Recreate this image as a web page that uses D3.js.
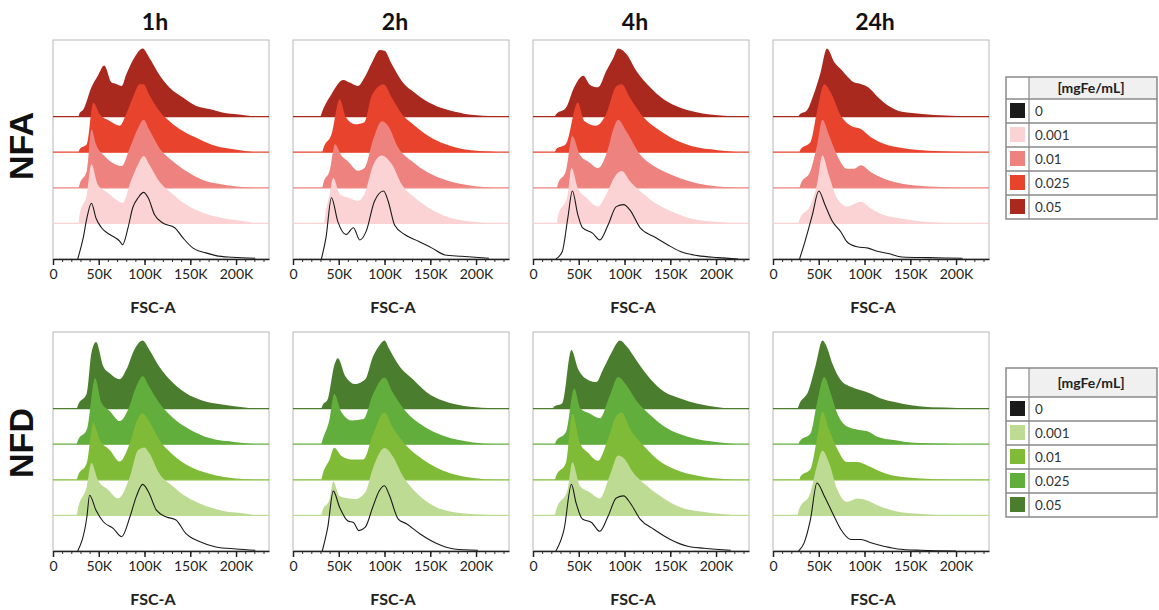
<!DOCTYPE html>
<html>
<head>
<meta charset="utf-8">
<script src="https://cdn.jsdelivr.net/npm/d3@7"></script>
<style>
  body { margin: 0; background: #fff; }
  text { font-family: Lato, "Open Sans", sans-serif; }
</style>
</head>
<body>
<svg id="chart" width="1159" height="610"></svg>
<script>
// ---------------- data : FSC-A (in K) , % of mode ----------------
// each panel = 5 histograms, in order of concentrations below
const timepoints = ["1h", "2h", "4h", "24h"];
const concentrations = ["0", "0.001", "0.01", "0.025", "0.05"];
const xTicks = [0, 50, 100, 150, 200];
const xTickLabels = ["0", "50K", "100K", "150K", "200K"];

const nfa1h = [
  [[27,0],[33,31],[37,60],[42,82],[47,60],[53,46],[62,36],[73,26],[76,21],[82,46],[87,75],[93,90],[99,98],[104,90],[111,65],[120,53],[133,46],[142,31],[153,16],[167,9],[178,5],[196,2.5],[221,1]],
  [[28,0],[29,12],[37,43],[42,87],[49,57],[60,45],[71,33],[76,30],[85,62],[93,87],[99,99],[105,87],[116,62],[131,43],[145,28],[163,16],[185,8],[214,2],[221,0]],
  [[28,0],[29,5],[37,25],[42,86],[47,64],[56,47],[69,34],[75,32],[84,59],[93,88],[99,100],[105,86],[116,59],[131,39],[145,25],[163,12],[185,5],[221,0]],
  [[28,0],[29,4],[37,12],[44,73],[51,56],[62,46],[73,39],[80,56],[87,80],[95,100],[99,100],[105,85],[116,61],[127,46],[142,31],[160,19],[178,9],[199,4],[220,0]],
  [[28,0],[29,5],[33,10],[42,43],[49,60],[56,75],[64,50],[69,48],[75,45],[80,62],[89,87],[98,100],[105,87],[116,62],[127,43],[142,28],[156,16],[171,11],[185,6],[203,3],[220,0]]
];
const nfa2h = [
  [[31,0],[36,31],[42,90],[49,55],[58,36],[66,46],[73,28],[80,41],[89,85],[99,100],[104,85],[111,50],[122,36],[137,26],[152,16],[166,6],[184,4],[214,1]],
  [[34,0],[35,10],[40,43],[44,67],[51,43],[60,38],[71,33],[78,43],[88,87],[97,100],[108,87],[119,57],[133,38],[148,23],[166,11],[192,3],[221,0]],
  [[32,0],[33,6],[40,25],[46,64],[53,47],[60,39],[71,25],[78,29],[88,73],[97,98],[104,91],[115,59],[130,39],[148,22],[170,10],[195,3],[221,0]],
  [[32,0],[33,5],[42,26],[51,78],[58,51],[68,41],[78,44],[86,83],[99,100],[108,80],[119,56],[133,39],[148,24],[166,12],[188,4],[214,1],[224,0]],
  [[30,0],[31,4],[42,33],[55,54],[62,50],[71,45],[78,57],[86,79],[95,98],[100,97],[108,77],[119,52],[133,35],[148,21],[166,11],[188,4],[214,1],[224,0]]
];
const nfa4h = [
  [[25,0],[32,11],[38,60],[43,100],[49,65],[54,46],[65,38],[73,28],[82,50],[91,77],[99,80],[106,72],[117,46],[132,33],[147,21],[161,11],[180,5],[202,2],[224,0]],
  [[26,0],[27,8],[38,43],[42,82],[49,52],[58,38],[71,25],[80,43],[91,72],[97,77],[106,62],[121,43],[136,28],[154,16],[176,6],[202,2],[224,0]],
  [[26,0],[27,5],[36,25],[43,76],[51,49],[62,37],[71,29],[80,49],[89,91],[93,100],[102,83],[117,49],[132,32],[150,20],[173,9],[202,2],[224,0]],
  [[24,0],[25,4],[36,12],[49,73],[56,46],[69,39],[80,56],[91,97],[97,100],[106,80],[121,51],[136,34],[150,22],[173,9],[202,3],[224,0]],
  [[24,0],[25,3],[36,13],[45,43],[55,60],[62,47],[71,43],[80,67],[88,87],[93,100],[102,92],[113,67],[128,43],[143,25],[161,13],[180,6],[202,2],[224,0]]
];
const nfa24h = [
  [[29,0],[35,26],[43,65],[50,100],[57,79],[65,55],[74,40],[81,25],[92,18],[104,16],[115,11],[126,8],[141,3],[170,2],[207,1]],
  [[28,0],[29,6],[41,27],[48,57],[54,100],[61,71],[70,37],[81,25],[96,32],[107,22],[122,12],[141,7],[170,2],[210,0]],
  [[29,0],[30,5],[41,25],[48,62],[54,100],[61,78],[70,48],[81,28],[89,28],[96,33],[107,23],[122,13],[141,6],[170,2],[225,0]],
  [[29,0],[30,4],[41,15],[48,59],[56,100],[63,88],[74,54],[85,39],[96,34],[107,22],[122,12],[141,6],[170,2],[225,0]],
  [[28,0],[29,3],[37,9],[44,31],[52,65],[59,100],[67,80],[74,70],[82,58],[89,50],[96,48],[104,43],[115,28],[126,16],[141,7],[163,4],[189,1.5],[225,0]]
];

const nfd1h = [
  [[27,0],[37,50],[40,82],[47,60],[55,43],[66,33],[75,21],[84,50],[91,80],[98,98],[105,85],[113,60],[124,50],[134,46],[145,26],[160,14],[178,6],[200,3],[221,1]],
  [[26,0],[27,8],[37,43],[42,77],[49,52],[60,38],[71,25],[84,57],[93,96],[100,100],[105,92],[116,62],[131,43],[145,28],[163,16],[185,7],[214,2],[221,0]],
  [[26,0],[27,5],[37,25],[44,83],[51,59],[62,44],[73,27],[84,54],[93,91],[98,98],[105,86],[116,59],[131,37],[149,20],[171,9],[200,2],[221,0]],
  [[26,0],[27,5],[37,22],[46,97],[53,61],[62,49],[73,34],[82,51],[91,85],[98,100],[105,85],[116,61],[131,39],[149,22],[171,9],[200,3],[221,0]],
  [[26,0],[27,4],[37,23],[42,82],[47,98],[55,62],[62,52],[73,43],[80,57],[89,87],[98,100],[105,87],[116,62],[131,38],[145,23],[163,12],[185,6],[207,2],[221,0]]
];
const nfd2h = [
  [[32,0],[38,35],[44,88],[51,64],[60,44],[66,42],[72,30],[79,35],[87,64],[94,88],[100,96],[105,83],[115,47],[124,40],[139,25],[157,11],[176,3],[202,1]],
  [[31,0],[32,6],[40,24],[44,50],[51,28],[68,24],[79,34],[87,68],[100,99],[109,87],[120,58],[135,33],[154,14],[180,4],[210,1],[224,0]],
  [[31,0],[32,6],[40,30],[45,47],[53,35],[64,30],[77,30],[87,65],[100,99],[109,77],[124,50],[142,30],[165,13],[195,3],[224,0]],
  [[31,0],[32,5],[40,37],[45,74],[53,47],[64,35],[77,37],[87,72],[100,98],[109,76],[124,47],[142,27],[165,12],[195,3],[224,0]],
  [[31,0],[32,4],[38,14],[45,63],[49,74],[57,48],[68,36],[79,43],[87,75],[94,92],[100,100],[105,88],[116,63],[131,43],[146,24],[165,11],[187,4],[213,1],[224,0]]
];
const nfd4h = [
  [[25,0],[34,32],[42,98],[47,71],[54,47],[64,42],[73,29],[82,51],[91,78],[99,81],[106,71],[117,47],[132,32],[150,17],[169,7],[187,4],[216,1]],
  [[24,0],[25,7],[38,39],[43,78],[51,44],[62,34],[73,25],[84,59],[93,88],[100,83],[109,64],[124,44],[143,25],[161,12],[187,5],[216,1]],
  [[24,0],[25,5],[36,25],[43,97],[51,55],[60,40],[71,28],[82,60],[91,94],[97,99],[106,75],[121,50],[136,30],[154,16],[180,6],[209,1],[222,0]],
  [[24,0],[25,4],[36,18],[45,82],[52,52],[62,45],[73,38],[84,72],[93,99],[102,87],[114,62],[128,43],[147,23],[169,11],[202,3],[222,0]],
  [[22,0],[23,3],[32,8],[42,86],[49,59],[58,44],[69,39],[77,59],[86,83],[95,100],[102,92],[114,69],[128,44],[143,25],[161,15],[180,7],[202,2],[215,0]]
];
const nfd24h = [
  [[28,0],[34,12],[41,47],[48,100],[56,81],[65,56],[74,32],[85,17],[96,17],[107,12],[121,7],[136,3],[162,1],[200,0]],
  [[27,0],[28,7],[41,34],[48,73],[54,95],[61,78],[70,39],[81,20],[92,25],[103,22],[114,15],[132,7],[162,2],[195,0]],
  [[29,0],[30,5],[41,16],[48,60],[54,100],[61,75],[70,46],[81,26],[92,26],[103,21],[114,14],[132,6],[162,2],[195,0]],
  [[28,0],[29,4],[41,16],[48,60],[56,99],[63,75],[70,46],[81,26],[94,21],[103,19],[114,11],[132,6],[154,2],[180,1],[200,0]],
  [[27,0],[28,4],[39,27],[47,66],[54,100],[59,90],[65,66],[74,42],[85,32],[96,27],[107,22],[118,15],[132,10],[151,5],[173,2],[202,1],[217,0]]
];

const nfaColors = ["#1a1a1a", "#fbd3d4", "#ee827e", "#e8432d", "#a9291f"];
const nfdColors = ["#1a1a1a", "#bedb93", "#80bb37", "#62ae3c", "#4b7d2e"];

// ---------------- layout ----------------
var svg = d3.select("#chart");
var panelW = 216, panelLeft = 53, panelStep = 240;

var rows = [
  { name: "NFA", data: [nfa1h, nfa2h, nfa4h, nfa24h], colors: nfaColors, top: 40, axisY: 259, labelY: 146, legTop: 77, legHead: 22 },
  { name: "NFD", data: [nfd1h, nfd2h, nfd4h, nfd24h], colors: nfdColors, top: 332, axisY: 551, labelY: 443, legTop: 368, legHead: 29 }
];

var x = d3.scaleLinear().domain([0, 236]).range([0, panelW]);
var y = d3.scaleLinear().domain([0, 100]).range([0, -68]);
var layer = d3.scaleLinear().domain([0, 4]).range([0, -142.4]);

var area = d3.area()
  .x(d => x(d[0]))
  .y0(0)
  .y1(d => y(d[1]))
  .curve(d3.curveMonotoneX);
var line = d3.line()
  .x(d => x(d[0]))
  .y(d => y(d[1]))
  .curve(d3.curveMonotoneX);

// column titles
timepoints.forEach(function (t, j) {
  svg.append("text")
    .attr("x", panelLeft + j * panelStep + panelW / 2 - 6)
    .attr("y", 30)
    .attr("text-anchor", "middle")
    .style("font-size", "23px")
    .style("font-weight", "bold")
    .style("fill", "#111")
    .text(t);
});

rows.forEach(function (row) {
  // row label, vertical
  svg.append("text")
    .attr("transform", "translate(33," + row.labelY + ") rotate(-90)")
    .attr("text-anchor", "middle")
    .style("font-family", "'Liberation Sans', Arial, sans-serif")
    .style("font-size", "34px")
    .style("font-weight", "bold")
    .style("fill", "#111")
    .text(row.name);

  row.data.forEach(function (panel, j) {
    var g = svg.append("g")
      .attr("transform", "translate(" + (panelLeft + j * panelStep) + "," + row.axisY + ")");

    g.append("rect")
      .attr("x", 0).attr("y", row.top - row.axisY)
      .attr("width", panelW).attr("height", row.axisY - row.top)
      .attr("fill", "none")
      .attr("stroke", "#b8b8b8");

    // back (highest conc) to front
    for (var i = 4; i >= 1; i--) {
      var lg = g.append("g").attr("transform", "translate(0," + layer(i) + ")");
      lg.append("line")
        .attr("x1", 0).attr("x2", panelW)
        .attr("y1", 0).attr("y2", 0)
        .attr("stroke", row.colors[i])
        .attr("stroke-width", 1.2);
      lg.append("path")
        .datum(panel[i])
        .attr("d", area)
        .attr("fill", row.colors[i]);
    }
    // control (0) as outline
    g.append("path")
      .datum(panel[0])
      .attr("d", line)
      .attr("fill", "none")
      .attr("stroke", row.colors[0])
      .attr("stroke-width", 1.1);

    // minor ticks
    g.append("g")
      .call(d3.axisBottom(x).tickValues(d3.range(0, 236, 10)).tickSize(3).tickFormat(""))
      .call(a => a.select(".domain").remove())
      .selectAll("line").attr("stroke", "#333");
    // major ticks
    var ax = g.append("g")
      .call(d3.axisBottom(x).tickValues(xTicks).tickSize(6).tickSizeOuter(0)
        .tickFormat((d, k) => xTickLabels[k]));
    ax.select(".domain").attr("stroke", "#222").attr("stroke-width", 1.3);
    ax.selectAll("line").attr("stroke", "#222").attr("stroke-width", 1.5);
    ax.selectAll("text")
      .attr("y", 10)
      .style("font-family", "Lato, sans-serif")
      .style("font-size", "14px")
      .style("fill", "#222");

    g.append("text")
      .attr("x", panelW / 2 - 8)
      .attr("y", 54)
      .attr("text-anchor", "middle")
      .style("font-size", "16px")
      .style("font-weight", "bold")
      .style("fill", "#222")
      .text("FSC-A");
  });

  // legend table
  var lx = 1006, lw = 151, c1 = 23, rh = 24;
  var lg = svg.append("g").attr("transform", "translate(" + lx + "," + row.legTop + ")");
  var tableH = row.legHead + rh * concentrations.length;
  lg.append("rect")
    .attr("x", c1).attr("y", 0).attr("width", lw - c1).attr("height", row.legHead)
    .attr("fill", "#f0f0f0");
  lg.append("text")
    .attr("x", c1 + (lw - c1) / 2 - 2)
    .attr("y", row.legHead / 2 + 5)
    .attr("text-anchor", "middle")
    .style("font-size", "14px")
    .style("font-weight", "bold")
    .style("fill", "#222")
    .text("[mgFe/mL]");
  concentrations.forEach(function (c, i) {
    var ry = row.legHead + i * rh;
    lg.append("line")
      .attr("x1", 0).attr("x2", lw).attr("y1", ry).attr("y2", ry)
      .attr("stroke", "#8a8a8a").attr("stroke-width", 1.5);
    lg.append("rect")
      .attr("x", 4).attr("y", ry + 4)
      .attr("width", 15).attr("height", 15)
      .attr("fill", row.colors[i]);
    lg.append("text")
      .attr("x", c1 + 6)
      .attr("y", ry + rh / 2 + 5)
      .style("font-size", "13.5px")
      .style("fill", "#333")
      .text(c);
  });
  lg.append("line")
    .attr("x1", c1).attr("x2", c1).attr("y1", 0).attr("y2", tableH)
    .attr("stroke", "#8a8a8a").attr("stroke-width", 1.2);
  lg.append("rect")
    .attr("x", 0).attr("y", 0).attr("width", lw).attr("height", tableH)
    .attr("fill", "none")
    .attr("stroke", "#8a8a8a").attr("stroke-width", 1.5);
});
</script>
</body>
</html>
